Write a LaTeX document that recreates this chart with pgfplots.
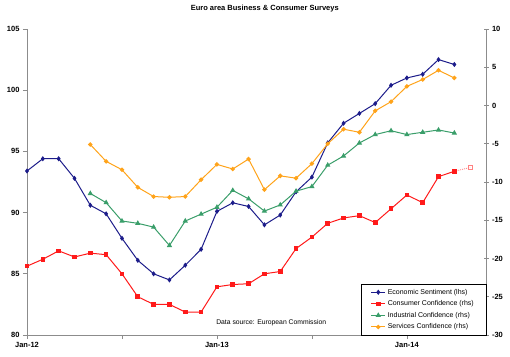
\documentclass[border=0pt]{standalone}
\usepackage{pgfplots}
\pgfplotsset{compat=1.18}
\usepackage{fontspec}
\setmainfont{Liberation Sans}
\definecolor{cNavy}{HTML}{1C1C8A}
\definecolor{cRed}{HTML}{FF1A1A}
\definecolor{cGreen}{HTML}{3A9E6A}
\definecolor{cOrange}{HTML}{FFA31A}
\definecolor{cAxis}{HTML}{8C8C8C}
\pgfplotsset{
  common/.style={
    scale only axis, width=459pt, height=306pt,
    xmin=0, xmax=29,
    /pgf/number format/assume math mode=true,
    tick label style={font=\fontsize{7.5}{8}\bfseries\selectfont},
    axis line style={cAxis, line width=0.7pt},
    major tick style={cAxis, line width=0.7pt},
    major tick length=4pt,
    every axis plot/.append style={line width=1pt},
  }
}
\begin{document}
\begin{tikzpicture}
\path[use as bounding box] (-27pt,-21pt) rectangle (483pt,335pt);
\begin{axis}[common,
  ymin=80, ymax=105, ytick={80,85,...,105},
  axis y line*=left, axis x line*=bottom,
  tick align=outside,
  xtick={0,6,12,18,24}, xticklabels={Jan-12,,Jan-13,,Jan-14},
  title={Euro area Business \& Consumer Surveys},
  title style={font=\fontsize{7.5}{9}\bfseries\selectfont, at={(0.518,1)}, anchor=center, yshift=14pt},
]
\addplot[color=cNavy, mark=diamond*, mark size=1.8pt] coordinates {
(0,93.4) (1,94.4) (2,94.4) (3,92.8) (4,90.6) (5,89.9) (6,87.9) (7,86.1) (8,85.0) (9,84.5)
(10,85.7) (11,87.0) (12,90.1) (13,90.8) (14,90.5) (15,89.0) (16,89.8) (17,91.7) (18,92.9) (19,95.7)
(20,97.3) (21,98.1) (22,98.9) (23,100.4) (24,101.0) (25,101.3) (26,102.5) (27,102.1)
};
\node[font=\fontsize{6.8}{8}\selectfont] at (rel axis cs:0.532,0.039) {Data source: European Commission};
\end{axis}
\begin{axis}[common,
  ymin=-30, ymax=10, ytick={-30,-25,...,10},
  axis y line*=right, axis x line=none,
  tick align=center, major tick length=5pt,
  legend style={at={(1,0)}, anchor=south east, draw=black, line width=0.5pt,
    font=\fontsize{7}{8}\selectfont, cells={anchor=west}, row sep=1pt,
    inner xsep=10pt, inner ysep=2.5pt},
  legend image code/.code={\draw[mark repeat=2, mark phase=2] plot coordinates {(0pt,0pt) (7pt,0pt) (14pt,0pt)};},
]
\addlegendimage{color=cNavy, mark=diamond*, mark size=1.8pt, line width=1pt}
\addlegendentry{Economic Sentiment (lhs)}
\addplot[color=cRed, mark=square*, mark size=1.8pt] coordinates {
(0,-21.0) (1,-20.1) (2,-19.0) (3,-19.8) (4,-19.3) (5,-19.5) (6,-22.0) (7,-25.0) (8,-26.0) (9,-26.0)
(10,-27.0) (11,-27.0) (12,-23.7) (13,-23.4) (14,-23.3) (15,-22.0) (16,-21.7) (17,-18.7) (18,-17.2) (19,-15.4)
(20,-14.7) (21,-14.4) (22,-15.3) (23,-13.5) (24,-11.7) (25,-12.7) (26,-9.3) (27,-8.6)
};
\addlegendentry{Consumer Confidence (rhs)}
\addplot[color=cGreen, mark=triangle*, mark size=2.1pt] coordinates {
(4,-11.5) (5,-12.7) (6,-15.1) (7,-15.4) (8,-15.9) (9,-18.3) (10,-15.1) (11,-14.2) (12,-13.3) (13,-11.1)
(14,-12.2) (15,-13.8) (16,-13.0) (17,-11.2) (18,-10.6) (19,-7.8) (20,-6.6) (21,-4.9) (22,-3.8) (23,-3.3)
(24,-3.8) (25,-3.5) (26,-3.2) (27,-3.6)
};
\addlegendentry{Industrial Confidence (rhs)}
\addplot[color=cOrange, mark=*, mark size=1.7pt] coordinates {
(4,-5.1) (5,-7.3) (6,-8.4) (7,-10.7) (8,-11.9) (9,-12.0) (10,-11.9) (11,-9.7) (12,-7.7) (13,-8.3)
(14,-7.0) (15,-11.0) (16,-9.2) (17,-9.5) (18,-7.6) (19,-5.0) (20,-3.1) (21,-3.5) (22,-0.7) (23,0.5)
(24,2.5) (25,3.4) (26,4.6) (27,3.6)
};
\addlegendentry{Services Confidence (rhs)}
\addplot[forget plot, color=cRed!55, densely dotted, line width=0.8pt, mark=square, mark size=2pt, mark indices={2}, mark options={solid}] coordinates {
(27,-8.6) (28,-8.1)
};
\end{axis}
\end{tikzpicture}
\end{document}
